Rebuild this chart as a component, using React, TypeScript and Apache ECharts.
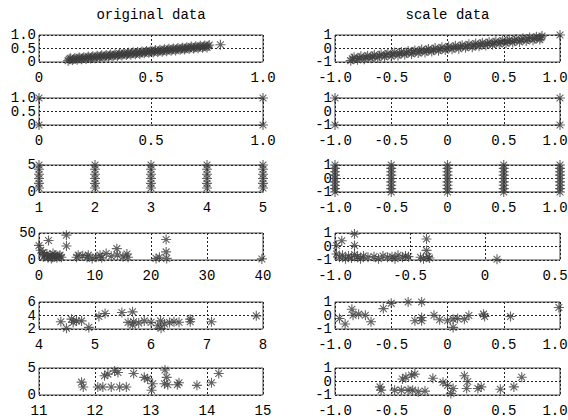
import React, { useEffect, useRef } from "react";
import * as echarts from "echarts";

type P = [number, number];

const columnTitles = ["original data", "scale data"];

// Row 1: continuous feature vs target
const origLinear: P[] = [
  [0.13, 0.05], [0.14, 0.14], [0.15, 0.07], [0.16, 0.15], [0.17, 0.08], [0.18, 0.17], [0.19, 0.1], [0.2, 0.18],
  [0.21, 0.11], [0.22, 0.2], [0.23, 0.13], [0.24, 0.21], [0.25, 0.14], [0.26, 0.23], [0.27, 0.16], [0.28, 0.25],
  [0.29, 0.18], [0.3, 0.26], [0.31, 0.19], [0.32, 0.28], [0.33, 0.21], [0.34, 0.29], [0.35, 0.22], [0.36, 0.31],
  [0.37, 0.24], [0.38, 0.33], [0.39, 0.26], [0.4, 0.34], [0.41, 0.27], [0.42, 0.36], [0.43, 0.29], [0.44, 0.37],
  [0.45, 0.3], [0.46, 0.39], [0.47, 0.32], [0.48, 0.41], [0.49, 0.34], [0.5, 0.42], [0.51, 0.35], [0.52, 0.44],
  [0.53, 0.37], [0.54, 0.45], [0.55, 0.38], [0.56, 0.47], [0.57, 0.4], [0.58, 0.49], [0.59, 0.42], [0.6, 0.5],
  [0.61, 0.43], [0.62, 0.52], [0.63, 0.45], [0.64, 0.53], [0.65, 0.46], [0.66, 0.55], [0.67, 0.48], [0.68, 0.57],
  [0.69, 0.5], [0.7, 0.58], [0.71, 0.51], [0.72, 0.6], [0.73, 0.53], [0.74, 0.61], [0.75, 0.54], [0.76, 0.63],
  [0.135, 0.1], [0.155, 0.11], [0.175, 0.13], [0.195, 0.14], [0.215, 0.16], [0.235, 0.18], [0.255, 0.19],
  [0.275, 0.21], [0.295, 0.22], [0.315, 0.24], [0.335, 0.25], [0.355, 0.27], [0.375, 0.29], [0.395, 0.3],
  [0.415, 0.32], [0.435, 0.33], [0.455, 0.35], [0.475, 0.37], [0.495, 0.38], [0.515, 0.4], [0.535, 0.41],
  [0.555, 0.43], [0.575, 0.45], [0.595, 0.46], [0.615, 0.48], [0.635, 0.49], [0.655, 0.51], [0.675, 0.53],
  [0.695, 0.54], [0.715, 0.56], [0.735, 0.57], [0.755, 0.59], [0.81, 0.64],
];

const scaleLinear: P[] = [
  [-0.86, -0.9], [-0.83, -0.64], [-0.8, -0.84], [-0.77, -0.58], [-0.74, -0.79], [-0.71, -0.53], [-0.68, -0.73],
  [-0.65, -0.47], [-0.62, -0.68], [-0.59, -0.42], [-0.56, -0.62], [-0.53, -0.36], [-0.5, -0.57], [-0.47, -0.3],
  [-0.44, -0.51], [-0.41, -0.25], [-0.38, -0.45], [-0.35, -0.19], [-0.32, -0.4], [-0.29, -0.14], [-0.26, -0.34],
  [-0.23, -0.08], [-0.2, -0.29], [-0.17, -0.03], [-0.14, -0.23], [-0.11, 0.03], [-0.08, -0.17], [-0.05, 0.09],
  [-0.02, -0.12], [0.01, 0.14], [0.04, -0.06], [0.07, 0.2], [0.1, -0.01], [0.13, 0.25], [0.16, 0.05], [0.19, 0.31],
  [0.22, 0.1], [0.25, 0.37], [0.28, 0.16], [0.31, 0.42], [0.34, 0.22], [0.37, 0.48], [0.4, 0.27], [0.43, 0.53],
  [0.46, 0.33], [0.49, 0.59], [0.52, 0.38], [0.55, 0.65], [0.58, 0.44], [0.61, 0.7], [0.64, 0.49], [0.67, 0.76],
  [0.7, 0.55], [0.73, 0.81], [0.76, 0.61], [0.79, 0.87], [0.82, 0.66], [0.84, 0.92],
  [-0.845, -0.76], [-0.785, -0.71], [-0.725, -0.65], [-0.665, -0.6], [-0.605, -0.54], [-0.545, -0.48],
  [-0.485, -0.43], [-0.425, -0.37], [-0.365, -0.31], [-0.305, -0.26], [-0.245, -0.2], [-0.185, -0.14],
  [-0.125, -0.09], [-0.065, -0.03], [-0.005, 0.02], [0.055, 0.08], [0.115, 0.14], [0.175, 0.19], [0.235, 0.25],
  [0.295, 0.31], [0.355, 0.36], [0.415, 0.42], [0.475, 0.47], [0.535, 0.53], [0.595, 0.58], [0.655, 0.64],
  [0.715, 0.7], [0.775, 0.75], [0.83, 0.8], [1, 1],
];

// Row 2: binary feature
const origBinary: P[] = [[0, 0], [0, 1], [1, 0], [1, 1]];
const scaleBinary: P[] = [[-1, -1], [-1, 1], [1, -1], [1, 1]];

// Row 3: ordinal feature (levels)
const origLevelX = [1, 2, 3, 4, 5];
const origLevelY = [0.75, 1.6, 2.5, 3.3, 4.2, 5];
const scaleLevelX = [-1, -0.5, 0, 0.5, 1];
const scaleLevelY = [-1, -0.75, -0.5, -0.25, 0, 0.25, 0.5, 0.75, 1];

// Row 4: skewed feature
const origSkew: P[] = [
  [0, 27], [0.3, 18], [0.7, 14], [0.8, 6], [1.4, 11], [1.7, 36], [1.0, 9], [1.6, 4], [2.0, 8], [2.4, 5],
  [2.5, 12], [2.8, 9], [3.2, 4], [3.6, 7], [3.75, 9], [4.0, 5], [2.2, 3], [3.0, 7], [4.9, 46], [4.9, 26],
  [6.7, 5], [7.0, 9], [7.8, 8], [8.6, 5], [8.8, 9], [9.5, 3], [10.2, 5], [10.9, 9], [11.2, 4], [12.0, 12],
  [12.9, 7], [13.9, 21], [14.0, 9], [15.0, 6], [15.7, 11], [15.9, 5], [20.9, 3], [21.5, 5], [22.7, 38],
  [22.7, 15], [22.8, 3], [39.8, 2],
];

const scaleSkew: P[] = [
  [-0.87, 0.92], [-0.955, 0.43], [-0.99, 0.07], [-0.87, 0.07], [-0.99, -0.55], [-0.97, -0.8], [-0.95, -0.65],
  [-0.93, -0.9], [-0.91, -0.7], [-0.89, -0.85], [-0.87, -0.6], [-0.85, -0.75], [-0.83, -0.9], [-0.81, -0.7],
  [-0.78, -0.8], [-0.74, -0.75], [-0.71, -0.9], [-0.68, -0.7], [-0.65, -0.8], [-0.62, -0.75], [-0.6, -0.9],
  [-0.58, -0.65], [-0.55, -0.8], [-0.53, -0.7], [-0.51, -0.75], [-0.39, 0.56], [-0.39, -0.29], [-0.43, -0.8],
  [-0.41, -0.9], [-0.38, -0.75], [-0.37, -0.85], [0.08, -0.95],
];

// Row 5
const origMid: P[] = [
  [4.39, 3.07], [4.49, 2.1], [4.58, 3.46], [4.61, 2.98], [4.67, 3.2], [4.76, 3.2], [4.89, 2.24], [5.07, 3.85],
  [5.18, 4.3], [5.48, 4.44], [5.59, 2.98], [5.67, 4.54], [5.69, 3.07], [5.67, 2.6], [5.78, 2.9], [5.88, 3.2],
  [6.0, 2.98], [6.12, 2.49], [6.17, 3.2], [6.18, 2.1], [6.24, 2.73], [6.33, 2.98], [6.41, 3.07], [6.5, 3.0],
  [6.7, 3.46], [6.7, 3.07], [7.08, 3.07], [7.88, 3.95],
];

const scaleMid: P[] = [
  [-0.96, -0.22], [-0.91, -0.63], [-0.85, 0.46], [-0.84, 0.02], [-0.79, 0.1], [-0.73, 0.02], [-0.68, -0.46],
  [-0.57, 0.51], [-0.5, 0.9], [-0.35, 1.0], [-0.29, -0.39], [-0.23, 1.0], [-0.23, -0.15], [-0.23, -0.39],
  [-0.12, 0.02], [-0.07, -0.32], [0.0, -0.39], [0.05, -0.27], [0.05, -0.88], [0.09, -0.22], [0.15, -0.27],
  [0.19, 0.0], [0.32, 0.1], [0.33, -0.07], [0.56, -0.07], [0.99, 0.59],
];

// Row 6
const origLast: P[] = [
  [11.76, 2.38], [11.79, 1.49], [12.05, 1.49], [12.14, 1.49], [12.17, 3.57], [12.23, 3.87], [12.29, 1.49],
  [12.35, 4.46], [12.41, 4.17], [12.44, 1.49], [12.56, 1.49], [12.69, 3.99], [12.88, 3.27], [12.94, 2.98],
  [13.03, 2.08], [13.01, 0.89], [13.25, 4.64], [13.28, 3.27], [13.24, 2.08], [13.3, 1.9], [13.47, 1.9],
  [13.5, 2.26], [13.82, 1.79], [14.08, 2.26], [14.21, 3.99],
];

const scaleLast: P[] = [
  [-0.6, -0.4], [-0.59, -0.64], [-0.47, -0.64], [-0.41, -0.64], [-0.4, 0.19], [-0.37, 0.31], [-0.32, 0.48],
  [-0.29, 0.55], [-0.35, -0.64], [-0.31, -0.64], [-0.26, -0.76], [-0.2, -0.71], [-0.13, 0.24], [-0.04, -0.05],
  [0.0, -0.29], [0.05, -0.52], [0.03, -0.88], [0.15, 0.43], [0.18, 0.0], [0.17, -0.52], [0.27, -0.52],
  [0.3, -0.4], [0.47, -0.57], [0.59, -0.4], [0.66, 0.31],
];

const cross = (xs: number[], ys: number[]): P[] => {
  const out: P[] = [];
  xs.forEach((x) => ys.forEach((y) => out.push([x, y])));
  return out;
};

// [min, max, interval]
const panels = [
  { data: origLinear, col: 0, row: 0, x: [0, 1, 0.5], y: [0, 1, 0.5], xd: true, yd: true },
  { data: scaleLinear, col: 1, row: 0, x: [-1, 1, 0.5], y: [-1, 1, 1], xd: true, yd: false },
  { data: origBinary, col: 0, row: 1, x: [0, 1, 0.5], y: [0, 1, 0.5], xd: true, yd: true },
  { data: scaleBinary, col: 1, row: 1, x: [-1, 1, 0.5], y: [-1, 1, 1], xd: true, yd: false },
  { data: cross(origLevelX, origLevelY), col: 0, row: 2, x: [1, 5, 1], y: [0, 5, 5], xd: false, yd: false },
  { data: cross(scaleLevelX, scaleLevelY), col: 1, row: 2, x: [-1, 1, 0.5], y: [-1, 1, 1], xd: true, yd: false },
  { data: origSkew, col: 0, row: 3, x: [0, 40, 10], y: [0, 50, 50], xd: false, yd: false },
  { data: scaleSkew, col: 1, row: 3, x: [-1, 0.5, 0.5], y: [-1, 1, 1], xd: true, yd: false },
  { data: origMid, col: 0, row: 4, x: [4, 8, 1], y: [2, 6, 2], xd: false, yd: false },
  { data: scaleMid, col: 1, row: 4, x: [-1, 1, 0.5], y: [-1, 1, 1], xd: true, yd: false },
  { data: origLast, col: 0, row: 5, x: [11, 15, 1], y: [0, 5, 5], xd: false, yd: false },
  { data: scaleLast, col: 1, row: 5, x: [-1, 1, 0.5], y: [-1, 1, 1], xd: true, yd: false },
];

const colLeft = [39, 335];
const colWidth = [224, 225];
const rowTop = [35, 98, 165, 233, 302, 368];
const rowHeight = 27;

const STAR = "path://M5 0L5 10M0 5L10 5M1.6 1.6L8.4 8.4M8.4 1.6L1.6 8.4";
const FONT = "Liberation Mono";

const near = (a: number, b: number) => Math.abs(a - b) < 1e-9;
const txt = (v: number, dec: boolean) => (near(v, 0) ? "0" : dec ? v.toFixed(1) : String(v));

export default function App() {
  const ref = useRef<HTMLDivElement>(null);
  useEffect(() => {
    if (!ref.current) return;
    const chart = echarts.init(ref.current, undefined, { renderer: "svg" });
    const label = { fontFamily: FONT, fontSize: 14, lineHeight: 11, color: "#000" };
    const split = { show: true, lineStyle: { color: "#222", type: [2, 2] as any, width: 1 } };
    const baseY = (p: any, i: number) => ({
      type: "value",
      gridIndex: i,
      position: "left",
      offset: 0,
      min: p.y[0],
      max: p.y[1],
      interval: p.y[2],
      axisLine: { show: false },
      axisTick: { show: false },
    });
    const yAxes: any[] = [];
    panels.forEach((p, i) => {
      // outer ticks (min & max)
      yAxes.push({
        ...baseY(p, i),
        splitLine: split,
        axisLabel: {
          ...label,
          margin: 3,
          showMinLabel: true,
          showMaxLabel: true,
          formatter: (v: number) => (near(v, p.y[0]) || near(v, p.y[1]) ? txt(v, p.yd) : ""),
        },
      });
    });
    panels.forEach((p, i) => {
      // inner ticks
      yAxes.push({
        ...baseY(p, i),
        splitLine: { show: false },
        axisLabel: {
          ...label,
          margin: 3,
          showMinLabel: true,
          showMaxLabel: true,
          formatter: (v: number) => (near(v, p.y[0]) || near(v, p.y[1]) ? "" : txt(v, p.yd)),
        },
      });
    });
    const option: any = {
      animation: false,
      backgroundColor: "#fff",
      graphic: columnTitles.map((t, i) => ({
        type: "text",
        x: colLeft[i] + colWidth[i] / 2,
        y: 15,
        silent: true,
        style: {
          text: t,
          font: `14px "${FONT}"`,
          fill: "#000",
          textAlign: "center",
          textVerticalAlign: "middle",
          align: "center",
          verticalAlign: "middle",
        },
      })),
      grid: panels.map((p) => ({
        left: colLeft[p.col],
        width: colWidth[p.col],
        top: rowTop[p.row],
        height: rowHeight,
        show: true,
        borderColor: "#444",
        borderWidth: 1,
        backgroundColor: "transparent",
        containLabel: false,
        outerBoundsMode: "none",
      })),
      xAxis: panels.map((p, i) => ({
        type: "value",
        gridIndex: i,
        min: p.x[0],
        max: p.x[1],
        interval: p.x[2],
        axisLine: { show: false },
        axisTick: { show: false },
        splitLine: split,
        axisLabel: {
          ...label,
          margin: 10,
          showMinLabel: true,
          showMaxLabel: true,
          formatter: (v: number) => {
            const s = txt(v, p.xd);
            return p.col === 1 && near(v, p.x[1]) ? `{edge|${s}}` : s;
          },
          rich: {
            edge: { fontFamily: FONT, fontSize: 14, lineHeight: 11, color: "#000", padding: [0, 10, 0, 0] },
          },
        },
      })),
      yAxis: yAxes,
      series: panels.map((p, i) => ({
        type: "scatter",
        xAxisIndex: i,
        yAxisIndex: i,
        data: p.data,
        symbol: STAR,
        symbolSize: 10,
        clip: false,
        silent: true,
        itemStyle: { color: "rgba(0,0,0,0)", borderColor: "#3c3c3c", borderWidth: 1.1 },
        emphasis: { disabled: true },
      })),
    };
    chart.setOption(option);
    return () => chart.dispose();
  }, []);
  return (
    <div
      ref={ref}
      style={{ position: "fixed", left: 0, top: 0, width: 568, height: 420, background: "#fff" }}
    />
  );
}
